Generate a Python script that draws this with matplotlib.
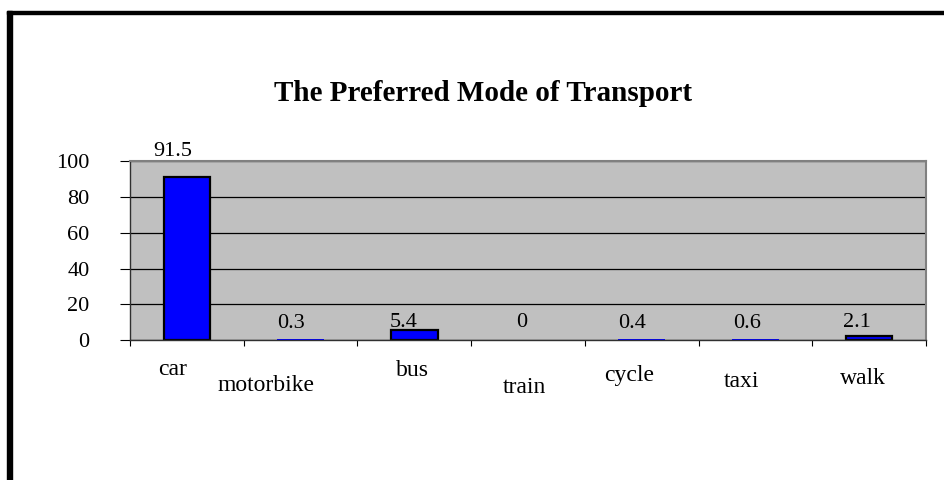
import numpy as np
import matplotlib
matplotlib.use('Agg')
import matplotlib.pyplot as plt
from matplotlib.patches import Rectangle

modes = ['car', 'motorbike', 'bus', 'train', 'cycle', 'taxi', 'walk']
percent = [91.5, 0.3, 5.4, 0, 0.4, 0.6, 2.1]
yticks = [0, 20, 40, 60, 80, 100]

# label placement in pixels (the original has them nudged around)
cat_dx = [-14, -35, -2, -4, -13, -14, -6]
cat_dy = [35, 51, 36, 53, 41, 47, 44]
val_dx = [-14, -10, -11, -6, -10, -8, -12]
val_dy = [21, 11.5, 3.4, 13, 11.3, 10.9, 9.3]

plt.rcParams['font.family'] = ['Liberation Serif', 'DejaVu Serif']

fig = plt.figure(figsize=(9.45, 4.8), dpi=100)
W, H = 945, 480

# frame around the chart (left and top edges visible)
fig.patches.append(Rectangle((7/W, 0), 5/W, (H-11)/H, transform=fig.transFigure,
                             color='black', zorder=0))
fig.patches.append(Rectangle((7/W, 1-14/H), (W-7)/W, 3/H, transform=fig.transFigure,
                             color='black', zorder=0))

ax = fig.add_axes([130/W, 1-340/H, (926-130)/W, (340-161.5)/H])
ax.set_facecolor('#C0C0C0')

x = np.arange(len(modes))
# tiny bars disappear into the axis line in the original
lw = [1.6 if v >= 1 else 0 for v in percent]
ax.bar(x, percent, width=0.41, color='#0000FF', edgecolor='black', linewidth=lw, zorder=2)

ax.set_xlim(-0.5, len(modes)-0.5)
ax.set_ylim(0, 100)
ax.set_yticks(yticks)
ax.set_yticklabels([str(t) for t in yticks], fontsize=16)
ax.tick_params(axis='y', length=7.2, width=0.8, pad=22, color='black')
ax.set_xticks(np.arange(len(modes)+1)-0.5)
ax.set_xticklabels([])
ax.tick_params(axis='x', length=4.3, width=0.8, direction='out', color='black')
ax.yaxis.grid(True, color='black', linewidth=0.9, zorder=1)
ax.set_axisbelow(True)

for s in ['top', 'right']:
    ax.spines[s].set_color('#808080')
    ax.spines[s].set_linewidth(1.5)
for s in ['left', 'bottom']:
    ax.spines[s].set_color('#303030')
    ax.spines[s].set_linewidth(1.0)

for i, m in enumerate(modes):
    ax.annotate(m, xy=(i, 0), xycoords=('data', 'axes fraction'),
                xytext=(cat_dx[i], -cat_dy[i]), textcoords='offset pixels',
                ha='center', va='baseline', fontsize=17, annotation_clip=False)
    v = percent[i]
    ax.annotate(f'{v:g}', xy=(i, v), xytext=(val_dx[i], val_dy[i]),
                textcoords='offset pixels', ha='center', va='baseline',
                fontsize=16, annotation_clip=False, zorder=5)

fig.text(483/W, 1-101/H, 'The Preferred Mode of Transport', ha='center',
         va='baseline', fontsize=21, fontweight='bold')

fig.savefig('out.png', dpi=100)
